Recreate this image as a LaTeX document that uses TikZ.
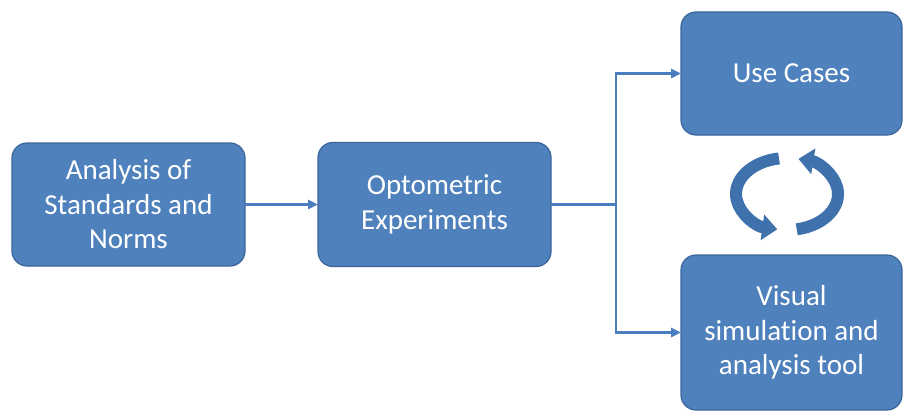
\documentclass[tikz,border=0pt]{standalone}
\usepackage{fontspec}
\setmainfont[Ligatures=NoCommon]{Carlito}
\usetikzlibrary{arrows.meta}
\definecolor{boxfill}{HTML}{4F81BD}
\definecolor{boxline}{HTML}{3A659A}
\definecolor{wire}{HTML}{4A7EC0}
\definecolor{cycle}{HTML}{3F71AD}
\tikzset{
  stage/.style={draw=boxline, line width=1.2pt, fill=boxfill, rounded corners=15pt,
    text=white, align=center, outer sep=0pt, inner sep=4pt,
    font=\fontsize{29}{34.5}\selectfont},
  conn/.style={draw=wire, line width=2.5pt, -{Triangle[length=10pt,width=9pt]}},
  plainconn/.style={draw=wire, line width=2.5pt},
  cyclearrow/.style={draw=cycle, line width=12pt, -{Triangle[length=15pt,width=25pt]}}
}
\begin{document}
\begin{tikzpicture}[x=1pt,y=-1pt]
  \useasboundingbox (0,0) rectangle (904,412);
  \begin{scope}
    \clip (0,0) rectangle (904,412);
    % process boxes
    \node[stage, minimum width=233pt, minimum height=123pt] (norms) at (128.5,204.5)
      {Analysis of\\Standards and\\Norms};
    \node[stage, minimum width=233pt, minimum height=124pt] (exp) at (434.5,204.5)
      {Optometric\\Experiments};
    \node[stage, minimum width=221pt, minimum height=123pt] (cases) at (791.5,73.5)
      {Use Cases};
    \node[stage, minimum width=221pt, minimum height=155pt] (tool) at (791.5,332.5)
      {Visual\\simulation and\\analysis tool};
    % connectors
    \coordinate (split) at (616,204.5);
    \draw[conn] (norms) -- (exp);
    \draw[plainconn] (exp) -- (split);
    \draw[conn] (split) |- (cases);
    \draw[conn] (split) |- (tool);
    % cycle between use cases and the tool
    \draw[cyclearrow] (787,194) ++(261:51 and 36) arc[start angle=261, end angle=101, x radius=51, y radius=36];
    \draw[cyclearrow] (787,194) ++(79:51 and 36) arc[start angle=79, end angle=-77, x radius=51, y radius=36];
  \end{scope}
\end{tikzpicture}
\end{document}
